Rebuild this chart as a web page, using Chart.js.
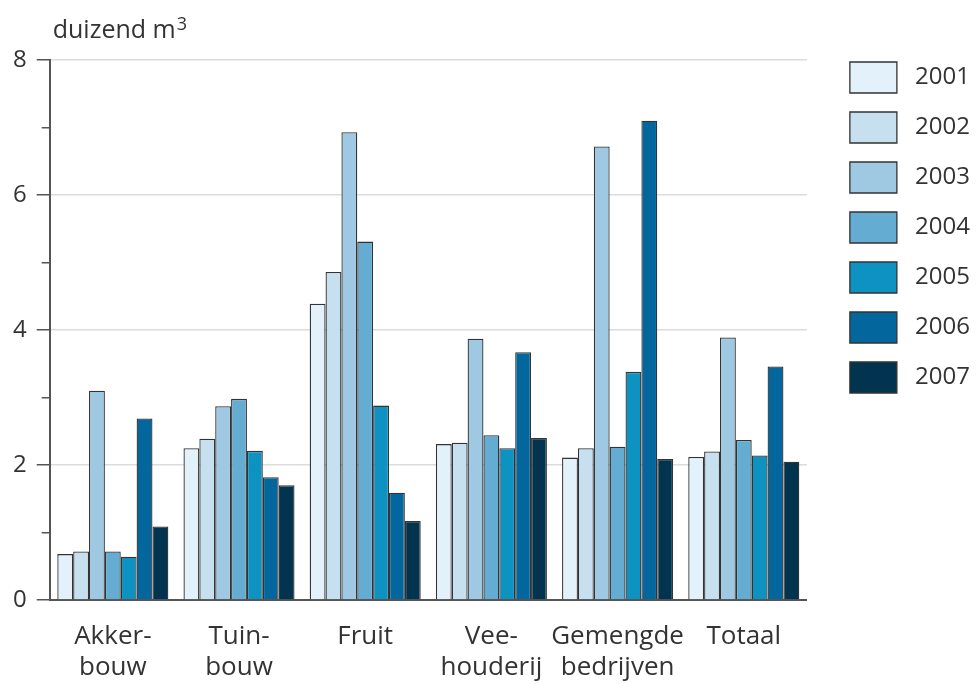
<!DOCTYPE html>
<html>
<head>
<meta charset="utf-8">
<script src="https://cdn.jsdelivr.net/npm/chart.js@4/dist/chart.umd.min.js"></script>
<style>
	html, body { margin: 0; padding: 0; background: #fff; }
</style>
</head>
<body>
<canvas id="grafiek" width="980" height="684"></canvas>
<script>
'use strict';

// categorieen (x-as) en jaren (reeksen)
const categorieen = [['Akker-', 'bouw'], ['Tuin-', 'bouw'], 'Fruit', ['Vee-', 'houderij'], ['Gemengde', 'bedrijven'], 'Totaal'];
const jaren = ['2001', '2002', '2003', '2004', '2005', '2006', '2007'];

// duizend m3 per bedrijfstype
const waarden2001 = [0.68, 2.25, 4.39, 2.31, 2.11, 2.12];
const waarden2002 = [0.72, 2.39, 4.86, 2.33, 2.25, 2.20];
const waarden2003 = [3.10, 2.87, 6.93, 3.87, 6.72, 3.89];
const waarden2004 = [0.72, 2.98, 5.31, 2.44, 2.27, 2.37];
const waarden2005 = [0.64, 2.21, 2.88, 2.25, 3.38, 2.14];
const waarden2006 = [2.69, 1.82, 1.59, 3.67, 7.10, 3.46];
const waarden2007 = [1.09, 1.70, 1.17, 2.40, 2.09, 2.05];

const yTicks = [0, 2, 4, 6, 8];
const eenheid = 'duizend m';

const kleuren = ['#e3f2fa', '#c6e0f0', '#9fc9e3', '#64acd2', '#0e92c2', '#03679e', '#02344f'];
const reeksen = [waarden2001, waarden2002, waarden2003, waarden2004, waarden2005, waarden2006, waarden2007];

Chart.defaults.font.family = "'Open Sans', sans-serif";
Chart.defaults.color = '#333';

const isHoofdtick = c => c.tick && yTicks.includes(c.tick.value);

// eenheid linksboven de y-as
const eenheidPlugin = {
	id: 'eenheid',
	afterDraw(chart) {
		const { ctx, chartArea } = chart;
		ctx.save();
		ctx.fillStyle = '#333';
		ctx.textBaseline = 'alphabetic';
		ctx.font = "25px 'Open Sans', sans-serif";
		const x = chartArea.left + 3;
		ctx.fillText(eenheid, x, 38);
		const w = ctx.measureText(eenheid).width;
		ctx.font = "18px 'Open Sans', sans-serif";
		ctx.fillText('3', x + w + 1, 30);
		ctx.restore();
	}
};

const datasets = jaren.map((j, i) => ({
	label: j,
	data: reeksen[i],
	backgroundColor: kleuren[i],
	borderColor: '#333',
	borderWidth: 1.3,
	barPercentage: 1.0,
	categoryPercentage: 0.88
}));

new Chart(document.getElementById('grafiek').getContext('2d'), {
	type: 'bar',
	data: {
		labels: categorieen,
		datasets: datasets
	},
	plugins: [eenheidPlugin],
	options: {
		responsive: false,
		animation: false,
		layout: {
			padding: { top: 43, right: 0, bottom: 2, left: 3 }
		},
		plugins: {
			tooltip: { enabled: false },
			legend: {
				display: true,
				position: 'right',
				align: 'start',
				labels: {
					boxWidth: 47,
					boxHeight: 31,
					padding: 19,
					color: '#333',
					font: { size: 24 },
					generateLabels: (chart) => {
						return Chart.defaults.plugins.legend.labels.generateLabels(chart).map(l => {
							l.text = ' ' + l.text;
							return l;
						});
					}
				}
			}
		},
		scales: {
			x: {
				afterFit: s => { s.height = 82; },
				grid: { display: true, drawOnChartArea: false, drawTicks: false },
				border: { display: true, color: '#555', width: 2 },
				ticks: {
					padding: 21,
					color: '#333',
					font: { size: 26, lineHeight: 1.2 },
					maxRotation: 0,
					autoSkip: false
				}
			},
			// ruimte tussen eenheid en bovenkant grafiek
			boven: {
				type: 'linear',
				position: 'top',
				afterFit: s => { s.height = 17; },
				grid: { display: false },
				border: { display: false },
				ticks: { display: false }
			},
			y: {
				min: 0,
				max: 8,
				grid: {
					color: c => (isHoofdtick(c) && c.tick.value !== 0) ? '#dcdcdc' : 'rgba(0,0,0,0)',
					lineWidth: 1.5,
					tickColor: '#555',
					tickLength: 13,
					tickWidth: 1.5,
					// korte streepjes op de oneven waarden, tegen de as aan
					tickBorderDash: c => isHoofdtick(c) ? [] : [0, 5, 8, 30]
				},
				border: { display: true, color: '#555', width: 2 },
				ticks: {
					stepSize: 1,
					padding: 10,
					color: '#333',
					font: { size: 24, lineHeight: 1.45 },
					callback: v => yTicks.includes(v) ? v : ''
				}
			},
			// ruimte tussen grafiek en legenda
			rand: {
				type: 'linear',
				position: 'right',
				afterFit: s => { s.width = 24; },
				grid: { display: false },
				border: { display: false },
				ticks: { display: false }
			}
		}
	}
});
</script>
</body>
</html>
